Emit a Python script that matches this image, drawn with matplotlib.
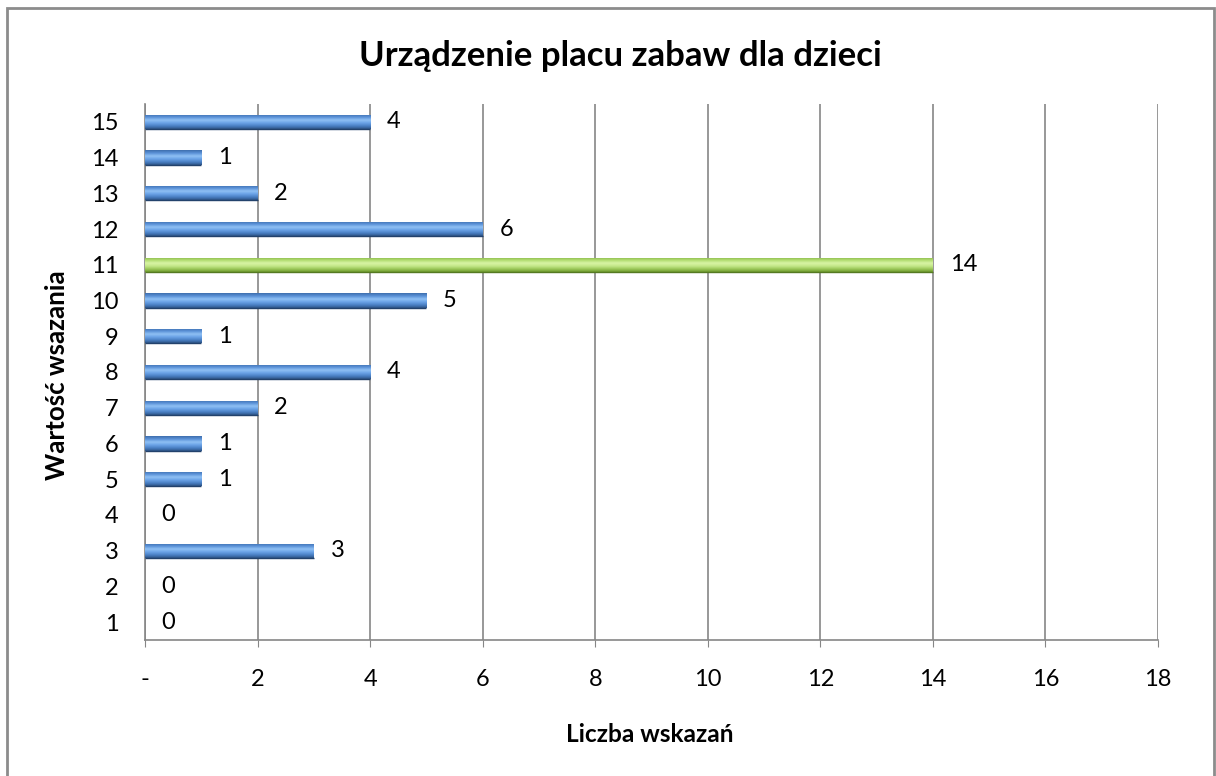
import numpy as np
import matplotlib
matplotlib.use('Agg')
import matplotlib.pyplot as plt
from matplotlib.colors import LinearSegmentedColormap
from matplotlib.patches import Rectangle

plt.rcParams['font.family'] = ['Lato', 'DejaVu Sans']

categories = ['1', '2', '3', '4', '5', '6', '7', '8', '9', '10', '11', '12', '13', '14', '15']
counts = [0, 0, 3, 0, 1, 1, 2, 4, 1, 5, 14, 6, 2, 1, 4]
highlight = '11'
xticks = [0, 2, 4, 6, 8, 10, 12, 14, 16, 18]
xticklabels = ['-', '2', '4', '6', '8', '10', '12', '14', '16', '18']

title = 'Urządzenie placu zabaw dla dzieci'
xlabel = 'Liczba wskazań'
ylabel = 'Wartość wsazania'

blue = LinearSegmentedColormap.from_list('b', ['#2f5689', '#4a80c4', '#6aa2e6', '#8fc0f4', '#5b92d8', '#3f6fae'])
green = LinearSegmentedColormap.from_list('g', ['#6f9a2e', '#9cc85a', '#c4e88a', '#d8f4a4', '#b1dc70', '#8ab84a'])

W, H = 1216, 776
fig = plt.figure(figsize=(W / 100, H / 100), dpi=100)
ax = fig.add_axes([145 / W, 1 - 640 / H, 1013 / W, 536 / H])

y = np.arange(len(categories))
bars = ax.barh(y, counts, height=0.4, color='none', edgecolor='none', zorder=3)

grad = np.linspace(0, 1, 64).reshape(-1, 1)
for cat, b in zip(categories, bars):
    if b.get_width() <= 0:
        continue
    x0, y0 = b.get_x(), b.get_y()
    w, h = b.get_width(), b.get_height()
    cmap = green if cat == highlight else blue
    im = ax.imshow(grad, cmap=cmap, aspect='auto', origin='upper',
                   extent=(x0, x0 + w, y0 + h, y0), zorder=3)
    im.set_clip_path(b)
    ax.plot([x0, x0 + w], [y0, y0], color='#23426c' if cat != highlight else '#557a22',
            lw=1.0, zorder=4, solid_capstyle='butt')

for yi, v in zip(y, counts):
    ax.annotate(str(v), (v, yi), xytext=(12, 0), textcoords='offset points',
                va='center', ha='left', fontsize=17, color='black')

ax.set_xlim(0, 18)
ax.set_ylim(-0.5, len(categories) - 0.5)
ax.set_xticks(xticks)
ax.set_xticklabels(xticklabels, fontsize=17)
ax.set_yticks(y)
ax.set_yticklabels(categories, fontsize=17)
ax.tick_params(axis='x', length=5, color='#868686', pad=16, direction='out')
ax.tick_params(axis='y', length=0, pad=19)
ax.grid(axis='x', color='#868686', lw=1.2, zorder=0)
ax.set_axisbelow(True)
for s in ['top', 'right']:
    ax.spines[s].set_visible(False)
for s in ['left', 'bottom']:
    ax.spines[s].set_color('#868686')
    ax.spines[s].set_linewidth(1.2)

t_title = fig.text(620 / W, 1 - 56 / H, title, ha='center', va='center', fontsize=21, fontweight='bold')
t_x = fig.text(650 / W, 1 - 734 / H, xlabel, ha='center', va='center', fontsize=15, fontweight='bold')
t_y = fig.text(57 / W, 1 - 375 / H, ylabel, ha='center', va='center', rotation=90,
               fontsize=15, fontweight='bold')

# size the titles to the widths they have in the reference picture
renderer = fig.canvas.get_renderer()
for t, target, vertical in [(t_title, 522, False), (t_x, 167, False), (t_y, 210, True)]:
    for _ in range(2):
        bb = t.get_window_extent(renderer)
        size = bb.height if vertical else bb.width
        t.set_fontsize(t.get_fontsize() * target / size)

fig.patches.append(Rectangle((0.006, -0.02), 0.992, 1.01, transform=fig.transFigure,
                             fill=False, edgecolor='#8c8c8c', lw=2))

fig.savefig('out.png', dpi=100)
